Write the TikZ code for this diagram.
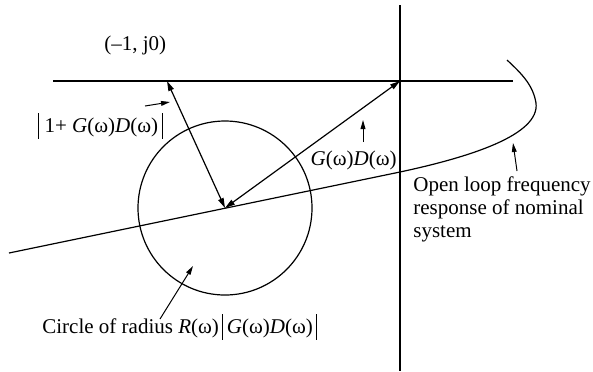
\documentclass[tikz,border=0pt]{standalone}
\usepackage{fontspec}
\setmainfont{Liberation Serif}
\usetikzlibrary{positioning,arrows.meta}
\newcommand{\absbar}{\rule[-0.28em]{0.5pt}{1.2em}}
\newcommand{\GD}{\textit{G}(ω)\textit{D}(ω)}
\tikzset{
  axisline/.style = {line width=0.6pt},
  locus/.style    = {line width=0.6pt},
  vec/.style      = {{Triangle[length=5pt,width=2.8pt]}-{Triangle[length=5pt,width=2.8pt]}, line width=0.6pt},
  pointer/.style  = {-{Triangle[length=4.5pt,width=2.4pt]}, line width=0.5pt},
  lbl/.style      = {font=\fontsize{10.5}{11.5}\selectfont, inner sep=0pt, align=left},
}
\begin{document}
\begin{tikzpicture}[x=0.5pt, y=-0.5pt]
\useasboundingbox (0,0) rectangle (593,371);

% ---------- axes and points ----------
\coordinate (origin) at (400,81);
\coordinate (minusone) at (167,81);
\coordinate (nom) at (225,208);
\draw[axisline] (53,81) coordinate (reW) -- (513,81) coordinate (reE);
\draw[axisline] (400,5) coordinate (imN) -- (400,371) coordinate (imS);

% ---------- nominal frequency response ----------
\draw[locus] (9,253) coordinate (nyqS) -- (400,172) coordinate (nyqX)
  .. controls (470,157) and (540,135) .. (536,103) coordinate (nyqR)
  .. controls (533,85) and (522,74) .. (507,60) coordinate (nyqE);

% ---------- uncertainty circle ----------
\node[draw, circle, line width=0.6pt, minimum size=87pt, inner sep=0pt] (disk) at (nom) {};

% ---------- vectors ----------
\draw[vec] (minusone) -- (nom);
\draw[vec] (nom) -- (origin);

% ---------- labels ----------
\node[lbl, anchor=west] (mlab) at (104,45) {(–1, j0)};
\node[lbl, anchor=west] (dlab) at (38,126) {\absbar\ 1+ \GD\,\absbar};
\node[lbl, anchor=east] (gdlab) at (397,160) {\GD};
\node[lbl, anchor=north west] (olab) at (413,176) {Open loop frequency\\response of nominal\\system};
\node[lbl, anchor=west] (clab) at (42,327) {Circle of radius \textit{R}(ω)\,\absbar\,\GD\,\absbar};

% ---------- pointers ----------
\coordinate (dtail) at (145,106);
\coordinate (dtip) at (170,102);
\draw[pointer] (dtail) -- (dtip);
\coordinate (gdtail) at (363,142);
\coordinate (gdtip) at (363,120);
\draw[pointer] (gdtail) -- (gdtip);
\coordinate (otail) at (517,171);
\coordinate (otip) at (513,143);
\draw[pointer] (otail) -- (otip);
\coordinate (ctail) at (160,319);
\coordinate (ctip) at (193,266);
\draw[pointer] (ctail) -- (ctip);
\end{tikzpicture}
\end{document}
